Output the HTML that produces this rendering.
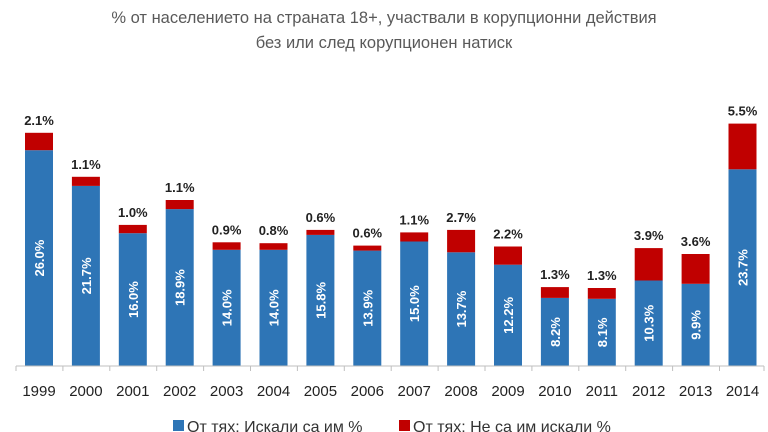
<!DOCTYPE html>
<html><head><meta charset="utf-8"><style>
html,body{margin:0;padding:0;background:#fff;}
svg{display:block;font-family:"Liberation Sans",sans-serif;}
.b{fill:#2e75b6}.r{fill:#c00000}
.rl{font-size:13px;font-weight:bold;fill:#222;text-anchor:middle}
.bl{font-size:13px;font-weight:bold;fill:#fff;text-anchor:middle}
.yr{font-size:15px;fill:#222;text-anchor:middle}
</style></head><body>
<svg width="768" height="432" viewBox="0 0 768 432" xmlns="http://www.w3.org/2000/svg">
<text x="384" y="23" text-anchor="middle" font-size="16.5" fill="#595959">% от населението на страната 18+, участвали в корупционни действия</text>
<text x="384" y="48" text-anchor="middle" font-size="16.5" fill="#595959">без или след корупционен натиск</text>

<g transform="translate(25,0)"><rect class="b" x="0" y="150.2" width="28" height="215.8"/><rect class="r" x="0" y="132.8" width="28" height="17.4"/><text class="rl" x="14" y="124.8">2.1%</text><text class="bl" transform="translate(19,258.1) rotate(-90)">26.0%</text><text class="yr" x="14" y="396">1999</text></g>
<g transform="translate(71.9,0)"><rect class="b" x="0" y="185.9" width="28" height="180.1"/><rect class="r" x="0" y="176.8" width="28" height="9.1"/><text class="rl" x="14" y="168.8">1.1%</text><text class="bl" transform="translate(19,275.9) rotate(-90)">21.7%</text><text class="yr" x="14" y="396">2000</text></g>
<g transform="translate(118.8,0)"><rect class="b" x="0" y="233.2" width="28" height="132.8"/><rect class="r" x="0" y="224.9" width="28" height="8.3"/><text class="rl" x="14" y="216.9">1.0%</text><text class="bl" transform="translate(19,299.6) rotate(-90)">16.0%</text><text class="yr" x="14" y="396">2001</text></g>
<g transform="translate(165.7,0)"><rect class="b" x="0" y="209.1" width="28" height="156.9"/><rect class="r" x="0" y="200" width="28" height="9.1"/><text class="rl" x="14" y="192">1.1%</text><text class="bl" transform="translate(19,287.6) rotate(-90)">18.9%</text><text class="yr" x="14" y="396">2002</text></g>
<g transform="translate(212.6,0)"><rect class="b" x="0" y="249.8" width="28" height="116.2"/><rect class="r" x="0" y="242.3" width="28" height="7.5"/><text class="rl" x="14" y="234.3">0.9%</text><text class="bl" transform="translate(19,307.9) rotate(-90)">14.0%</text><text class="yr" x="14" y="396">2003</text></g>
<g transform="translate(259.5,0)"><rect class="b" x="0" y="249.8" width="28" height="116.2"/><rect class="r" x="0" y="243.2" width="28" height="6.6"/><text class="rl" x="14" y="235.2">0.8%</text><text class="bl" transform="translate(19,307.9) rotate(-90)">14.0%</text><text class="yr" x="14" y="396">2004</text></g>
<g transform="translate(306.4,0)"><rect class="b" x="0" y="234.9" width="28" height="131.1"/><rect class="r" x="0" y="229.9" width="28" height="5"/><text class="rl" x="14" y="221.9">0.6%</text><text class="bl" transform="translate(19,300.4) rotate(-90)">15.8%</text><text class="yr" x="14" y="396">2005</text></g>
<g transform="translate(353.3,0)"><rect class="b" x="0" y="250.6" width="28" height="115.4"/><rect class="r" x="0" y="245.6" width="28" height="5"/><text class="rl" x="14" y="237.6">0.6%</text><text class="bl" transform="translate(19,308.3) rotate(-90)">13.9%</text><text class="yr" x="14" y="396">2006</text></g>
<g transform="translate(400.2,0)"><rect class="b" x="0" y="241.5" width="28" height="124.5"/><rect class="r" x="0" y="232.4" width="28" height="9.1"/><text class="rl" x="14" y="224.4">1.1%</text><text class="bl" transform="translate(19,303.7) rotate(-90)">15.0%</text><text class="yr" x="14" y="396">2007</text></g>
<g transform="translate(447.1,0)"><rect class="b" x="0" y="252.3" width="28" height="113.7"/><rect class="r" x="0" y="229.9" width="28" height="22.4"/><text class="rl" x="14" y="221.9">2.7%</text><text class="bl" transform="translate(19,309.1) rotate(-90)">13.7%</text><text class="yr" x="14" y="396">2008</text></g>
<g transform="translate(494,0)"><rect class="b" x="0" y="264.7" width="28" height="101.3"/><rect class="r" x="0" y="246.5" width="28" height="18.2"/><text class="rl" x="14" y="238.5">2.2%</text><text class="bl" transform="translate(19,315.4) rotate(-90)">12.2%</text><text class="yr" x="14" y="396">2009</text></g>
<g transform="translate(540.9,0)"><rect class="b" x="0" y="297.9" width="28" height="68.1"/><rect class="r" x="0" y="287.1" width="28" height="10.8"/><text class="rl" x="14" y="279.1">1.3%</text><text class="bl" transform="translate(19,332) rotate(-90)">8.2%</text><text class="yr" x="14" y="396">2010</text></g>
<g transform="translate(587.8,0)"><rect class="b" x="0" y="298.8" width="28" height="67.2"/><rect class="r" x="0" y="288" width="28" height="10.8"/><text class="rl" x="14" y="280">1.3%</text><text class="bl" transform="translate(19,332.4) rotate(-90)">8.1%</text><text class="yr" x="14" y="396">2011</text></g>
<g transform="translate(634.7,0)"><rect class="b" x="0" y="280.5" width="28" height="85.5"/><rect class="r" x="0" y="248.1" width="28" height="32.4"/><text class="rl" x="14" y="240.1">3.9%</text><text class="bl" transform="translate(19,323.3) rotate(-90)">10.3%</text><text class="yr" x="14" y="396">2012</text></g>
<g transform="translate(681.6,0)"><rect class="b" x="0" y="283.8" width="28" height="82.2"/><rect class="r" x="0" y="254" width="28" height="29.8"/><text class="rl" x="14" y="246">3.6%</text><text class="bl" transform="translate(19,324.9) rotate(-90)">9.9%</text><text class="yr" x="14" y="396">2013</text></g>
<g transform="translate(728.5,0)"><rect class="b" x="0" y="169.3" width="28" height="196.7"/><rect class="r" x="0" y="123.6" width="28" height="45.7"/><text class="rl" x="14" y="115.6">5.5%</text><text class="bl" transform="translate(19,267.6) rotate(-90)">23.7%</text><text class="yr" x="14" y="396">2014</text></g>

<line x1="16" y1="366" x2="764" y2="366" stroke="#bfbfbf" stroke-width="1"/>
<g stroke="#bfbfbf">
<line x1="16" y1="366" x2="16" y2="371"/><line x1="62.9" y1="366" x2="62.9" y2="371"/><line x1="109.8" y1="366" x2="109.8" y2="371"/><line x1="156.7" y1="366" x2="156.7" y2="371"/><line x1="203.6" y1="366" x2="203.6" y2="371"/><line x1="250.5" y1="366" x2="250.5" y2="371"/><line x1="297.4" y1="366" x2="297.4" y2="371"/><line x1="344.3" y1="366" x2="344.3" y2="371"/><line x1="391.2" y1="366" x2="391.2" y2="371"/><line x1="438.1" y1="366" x2="438.1" y2="371"/><line x1="485" y1="366" x2="485" y2="371"/><line x1="531.9" y1="366" x2="531.9" y2="371"/><line x1="578.8" y1="366" x2="578.8" y2="371"/><line x1="625.7" y1="366" x2="625.7" y2="371"/><line x1="672.6" y1="366" x2="672.6" y2="371"/><line x1="719.5" y1="366" x2="719.5" y2="371"/><line x1="764" y1="366" x2="764" y2="371"/>
</g>
<rect x="173" y="420" width="11" height="11" fill="#2e75b6"/>
<text x="187" y="432" font-size="16" fill="#333">От тях: Искали са им %</text>
<rect x="399" y="420" width="11" height="11" fill="#c00000"/>
<text x="413" y="432" font-size="16" fill="#333">От тях: Не са им искали %</text>
</svg>
</body></html>
